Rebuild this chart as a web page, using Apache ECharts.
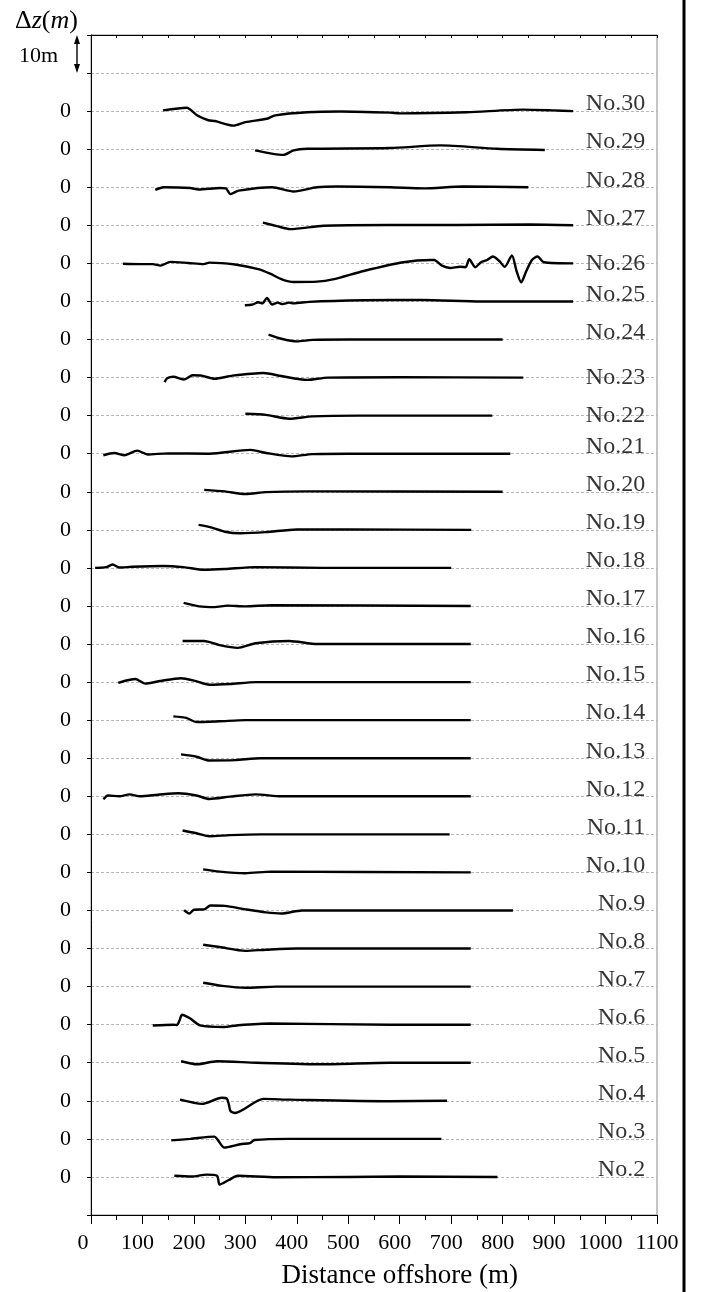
<!DOCTYPE html>
<html>
<head>
<meta charset="utf-8">
<script src="https://cdn.jsdelivr.net/npm/echarts@6/dist/echarts.min.js"></script>
<style>
html,body{margin:0;padding:0;background:#fff;overflow:hidden;}
#chart{width:704px;height:1292px;}
</style>
</head>
<body>
<div id="chart"></div>
<script>
// ---- data: profile numbers, x ticks, and each profile as [distance (m), dz (m)] ----
const profileIds = [2,3,4,5,6,7,8,9,10,11,12,13,14,15,16,17,18,19,20,21,22,23,24,25,26,27,28,29,30];
const rowSpacing = 10; // metres between successive profile baselines
const xTickValues = [0,100,200,300,400,500,600,700,800,900,1000,1100];

const p2  = [[162,0.3],[195,0.1],[225,0.6],[245,0.3],[250,-2.0],[268,-0.8],[285,0.3],[360,-0.1],[500,0],[600,0.1],[790,0]];
const p3  = [[156,-0.4],[193,0],[240,0.6],[246,-0.2],[259,-2.3],[290,-1.4],[309,-1.1],[318,-0.3],[387,0],[681,0]];
const p4  = [[173,0.3],[216,-0.8],[254,0.8],[264,0.6],[268,-1.0],[271,-2.7],[280,-3.2],[335,0.5],[387,0.3],[581,-0.1],[692,0]];
const p5  = [[175,0.4],[206,-0.4],[245,0.4],[322,0],[452,-0.4],[581,0],[738,0]];
const p6  = [[120,-0.2],[160,0],[167,-0.1],[172,1.1],[177,2.6],[193,1.6],[212,-0.2],[258,-0.6],[283,-0.2],[348,0.3],[581,0],[738,0]];
const p7  = [[218,1.0],[255,0.2],[300,-0.3],[360,0],[738,0]];
const p8  = [[218,1.0],[250,0.4],[300,-0.6],[340,-0.3],[400,0],[738,0]];
const p9  = [[181,0.1],[191,-0.8],[200,0.2],[220,0.3],[232,1.3],[260,1.2],[300,0.3],[340,-0.5],[370,-0.8],[410,0],[820,0]];
const p10 = [[218,0.8],[250,0.2],[300,-0.2],[350,0.2],[738,0]];
const p11 = [[178,1.0],[205,0.3],[230,-0.5],[270,-0.2],[330,0],[697,0]];
const p12 = [[24,-0.8],[33,0.2],[55,0],[75,0.5],[95,0],[130,0.4],[170,0.8],[205,0.2],[230,-0.7],[270,-0.1],[320,0.5],[370,0],[738,0]];
const p13 = [[175,1.0],[205,0.4],[230,-0.6],[280,-0.5],[330,0],[738,0]];
const p14 = [[160,1.0],[185,0.6],[205,-0.5],[250,-0.3],[300,0],[738,0]];
const p15 = [[53,-0.2],[65,0.3],[86,0.8],[105,-0.4],[135,0.3],[175,1.0],[200,0.4],[230,-0.7],[270,-0.5],[320,0],[738,0]];
const p16 = [[178,0.8],[220,0.8],[250,-0.3],[285,-1.0],[320,0.2],[385,0.8],[440,0],[738,0]];
const p17 = [[180,0.8],[210,-0.1],[240,-0.3],[265,0.1],[300,-0.1],[350,0.2],[738,0]];
const p18 = [[8,0],[30,0.2],[42,0.9],[55,0.1],[80,0.3],[140,0.5],[180,0.2],[220,-0.5],[260,-0.3],[320,0.2],[450,0],[700,0]];
const p19 = [[209,1.3],[235,0.6],[260,-0.5],[290,-0.9],[340,-0.6],[400,0.1],[500,0.1],[739,0]];
const p20 = [[220,0.5],[260,0.1],[300,-0.6],[340,-0.1],[420,0.1],[800,0]];
const p21 = [[24,-0.4],[45,0.2],[65,-0.4],[90,0.8],[110,-0.2],[150,0.1],[230,0],[310,1.0],[340,0.2],[390,-0.7],[430,-0.1],[500,0],[815,0]];
const p22 = [[300,0.5],[340,0.2],[385,-0.8],[430,-0.2],[520,0],[780,0]];
const p23 = [[143,-1.2],[148,-0.2],[160,0.2],[180,-0.5],[198,0.6],[215,0.5],[240,-0.3],[275,0.5],[335,1.2],[370,0.4],[420,-0.6],[460,0],[600,0.1],[840,0]];
const p24 = [[345,1.3],[370,0.2],[400,-0.5],[430,-0.1],[500,0],[800,0]];
const p25 = [[299,-1.0],[314,-0.8],[325,-0.2],[333,-0.5],[342,0.9],[352,-0.8],[363,-0.3],[372,-0.7],[385,-0.3],[394,-0.5],[424,-0.1],[530,0.3],[644,0.4],[758,0],[937,0]];
const p26 = [[62,-0.1],[95,-0.2],[120,-0.2],[135,-0.6],[154,0.4],[189,0.1],[219,-0.2],[230,0.2],[280,-0.3],[325,-1.5],[348,-2.7],[371,-4.2],[394,-4.9],[439,-4.8],[470,-4.2],[530,-2.0],[607,0.3],[660,0.9],[667,0.9],[682,-0.6],[698,-1.2],[717,-0.9],[728,-1.0],[735,1.1],[747,-1.0],[758,0.3],[770,0.9],[781,1.8],[793,0.7],[804,-0.9],[818,2.1],[827,-2.0],[836,-5.0],[846,-2.0],[857,0.9],[868,1.8],[880,0.3],[937,0]];
const p27 = [[334,0.7],[361,-0.2],[387,-1.0],[452,-0.1],[581,0.1],[711,0.1],[853,0.2],[937,0]];
const p28 = [[125,-0.7],[141,0],[193,-0.2],[209,-0.6],[251,-0.2],[262,-0.3],[271,-1.8],[287,-0.9],[352,0],[394,-1.1],[439,0],[478,0.2],[581,0],[646,-0.3],[723,0.2],[850,0]];
const p29 = [[319,-0.3],[374,-1.5],[394,-0.3],[420,0.1],[581,0.3],[679,1.0],[789,0.1],[882,-0.2]];
const p30 = [[140,0.2],[186,0.9],[206,-1.1],[228,-2.4],[241,-2.6],[277,-3.8],[300,-2.9],[342,-2.0],[358,-1.1],[420,-0.3],[484,-0.1],[581,-0.4],[601,-0.6],[730,-0.3],[840,0.4],[898,0.2],[937,0]];

const profiles = [p2,p3,p4,p5,p6,p7,p8,p9,p10,p11,p12,p13,p14,p15,p16,p17,p18,p19,p20,p21,p22,p23,p24,p25,p26,p27,p28,p29,p30];

// ---- presentation ----
const FONT = '"Liberation Serif", "Times New Roman", serif';
const labelX = 1077;                    // data x where the "No." labels are right-aligned
const labelRaise = {26: 0, 23: 0, 22: 0}; // px raise of a label above its baseline
const defaultRaise = 7;

const chart = echarts.init(document.getElementById('chart'), null, {renderer: 'canvas'});

const series = profiles.map((p, i) => ({
  type: 'line',
  name: 'No.' + profileIds[i],
  data: p.map(d => [d[0], i * rowSpacing + d[1]]),
  showSymbol: false,
  symbol: 'none',
  smooth: 0.25,
  lineStyle: {color: '#000', width: 2.4},
  z: 3,
  silent: true,
  animation: false
}));

series.push({
  type: 'scatter',
  symbolSize: 0,
  silent: true,
  animation: false,
  data: profileIds.map((id, i) => ({
    value: [labelX, i * rowSpacing],
    label: {offset: [0, -((id in labelRaise) ? labelRaise[id] : defaultRaise)]}
  })),
  label: {
    show: true,
    position: 'inside',
    align: 'right',
    verticalAlign: 'middle',
    formatter: p => 'No.' + profileIds[p.dataIndex],
    fontFamily: FONT,
    fontSize: 24,
    color: '#000'
  },
  z: 4
});

const yMin = -rowSpacing;
const yMax = (profileIds.length + 1) * rowSpacing;

const option = {
  animation: false,
  backgroundColor: '#fff',
  grid: {left: 91, right: 47, top: 35, bottom: 77, show: true, borderColor: '#8a8a8a', borderWidth: 1, containLabel: false},
  xAxis: [{
    type: 'value', position: 'bottom', min: 0, max: 1100, interval: 100,
    axisLine: {show: true, onZero: false, lineStyle: {color: '#000', width: 1}},
    axisTick: {show: true, inside: false, length: 9, lineStyle: {color: '#000'}},
    minorTick: {show: true, splitNumber: 2, length: 5, lineStyle: {color: '#000'}},
    axisLabel: {
      fontFamily: FONT, fontSize: 22, color: '#000', margin: 17,
      formatter: v => {
        if (xTickValues.indexOf(v) < 0) return '';
        if (v === 0) return '{z|0}';
        if (v === 1100) return '{e|1100}';
        return '{n|' + v + '}';
      },
      rich: {
        z: {fontFamily: FONT, fontSize: 22, color: '#000', padding: [0, 16, 0, 0]},
        n: {fontFamily: FONT, fontSize: 22, color: '#000', padding: [0, 10, 0, 0]},
        e: {fontFamily: FONT, fontSize: 22, color: '#000', padding: [0, 0, 0, 0]}
      }
    },
    splitLine: {show: false}
  }, {
    type: 'value', position: 'top', min: 0, max: 1100, interval: 100,
    axisLine: {show: true, onZero: false, lineStyle: {color: '#000', width: 1}},
    axisTick: {show: true, inside: true, length: 3, lineStyle: {color: '#000'}},
    minorTick: {show: true, splitNumber: 2, length: 3, lineStyle: {color: '#000'}},
    axisLabel: {show: false},
    splitLine: {show: false}
  }],
  yAxis: [{
    type: 'value', min: yMin, max: yMax, interval: rowSpacing,
    axisLine: {show: true, onZero: false, lineStyle: {color: '#000', width: 1}},
    axisTick: {show: true, inside: false, length: 4, lineStyle: {color: '#000'}},
    axisLabel: {fontFamily: FONT, fontSize: 22, color: '#000', margin: 20, padding: [8, 0, 0, 0],
      formatter: v => (v >= 0 && v <= (profileIds.length - 1) * rowSpacing) ? '0' : ''},
    splitLine: {show: true, lineStyle: {color: '#b8b8b8', type: [3, 2], width: 1}}
  }],
  series: series
};

chart.setOption(option);

// annotations placed through the axes
const yTop = chart.convertToPixel({yAxisIndex: 0}, yMax);
const y10 = chart.convertToPixel({yAxisIndex: 0}, yMax - rowSpacing);
const xTitle = chart.convertToPixel({xAxisIndex: 0}, 600);
const ax = 77;
chart.setOption({
  graphic: [
    {type: 'text', x: 15, y: 21, style: {
      text: '{n|Δ}{i|z}{n|(}{i|m}{n|)}',
      verticalAlign: 'middle',
      rich: {
        n: {fontFamily: FONT, fontSize: 26, fill: '#000'},
        i: {fontFamily: FONT, fontSize: 26, fontStyle: 'italic', fill: '#000'}
      }
    }},
    {type: 'text', x: 19, y: y10 - 17, style: {text: '10m', fontFamily: FONT, fontSize: 22, fill: '#000', verticalAlign: 'middle'}},
    {type: 'line', shape: {x1: ax, y1: yTop + 6, x2: ax, y2: y10 - 6}, style: {stroke: '#000', lineWidth: 1.4}},
    {type: 'polygon', shape: {points: [[ax, yTop], [ax - 3, yTop + 9], [ax + 3, yTop + 9]]}, style: {fill: '#000'}},
    {type: 'polygon', shape: {points: [[ax, y10], [ax - 3, y10 - 9], [ax + 3, y10 - 9]]}, style: {fill: '#000'}},
    {type: 'text', x: xTitle, y: 1276, style: {text: 'Distance offshore (m)', fontFamily: FONT, fontSize: 27, fill: '#000', align: 'center', verticalAlign: 'middle'}},
    {type: 'line', shape: {x1: 684, y1: 0, x2: 684, y2: 1292}, style: {stroke: '#000', lineWidth: 3}}
  ]
});
</script>
</body>
</html>
